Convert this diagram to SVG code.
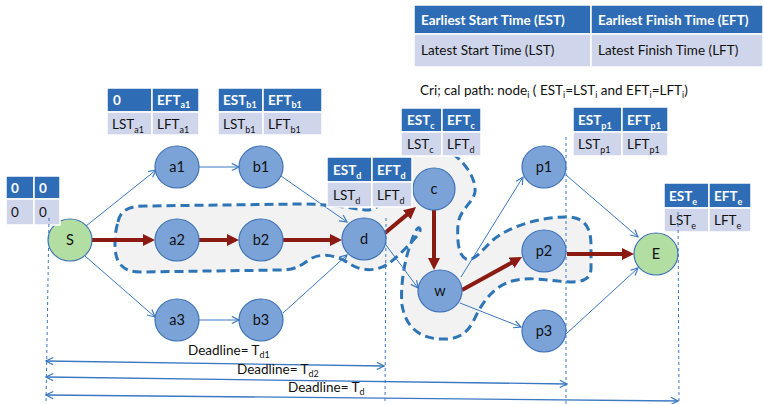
<svg xmlns="http://www.w3.org/2000/svg" width="764" height="404" viewBox="0 0 764 404">
<style>
text{font-family:Lato,"Liberation Sans",sans-serif}
.n{fill:#7ba3d8;stroke:#3d72b5;stroke-width:1.2}
.g{fill:#b3dea1;stroke:#3d72b5;stroke-width:1.2}
.lbl{font-size:14.5px;fill:#111;text-anchor:middle}
.th{fill:#2e6db5;stroke:#fff;stroke-width:1.5}
.tb{fill:#cfd5ea;stroke:#fff;stroke-width:1.5}
.tht{font-size:13.5px;font-weight:bold;fill:#fff}
.tbt{font-size:13.5px;fill:#111}
.s{font-size:9px}
.e{stroke:#3a78c2;stroke-width:1;fill:none;marker-end:url(#ah)}
.c{stroke:#8b1a12;stroke-width:4;fill:none;marker-end:url(#rh)}
.v{stroke:#3a78c2;stroke-width:1;stroke-dasharray:3 3;fill:none}
.dl{stroke:#3a78c2;stroke-width:1.3;fill:none;marker-start:url(#ah);marker-end:url(#ah)}
.blob{fill:#f2f2f2;stroke:#2e75b6;stroke-width:3;stroke-dasharray:9 5}
</style>
<defs>
<marker id="ah" viewBox="0 0 10 10" refX="9" refY="5" markerWidth="9" markerHeight="9" markerUnits="userSpaceOnUse" orient="auto-start-reverse"><path d="M1,1 L9,5 L1,9" fill="none" stroke="#3a78c2" stroke-width="1.3"/></marker>
<marker id="rh" viewBox="0 0 12 12" refX="1" refY="6" markerWidth="12" markerHeight="12" markerUnits="userSpaceOnUse" orient="auto"><path d="M0,0 L12,6 L0,12 z" fill="#8b1a12"/></marker>
</defs>
<rect width="764" height="404" fill="#fff"/>

<!-- critical region -->
<path class="blob" d="M118,222 C120,210 130,206 145,206 L300,204 C330,204 350,208 365,210 C380,211 392,195 396,175 C399,160 405,148 425,148 C445,148 452,152 460,160 C468,168 476,180 475,192 C473,203 460,209 458,224 C457,240 458,255 466,259 C474,262 482,250 493,240 C510,226 540,217 567,217 C585,217 591,228 591,245 L591,268 C591,278 585,282 570,282 C550,281 530,276 512,281 C494,286 482,302 474,320 C467,334 458,340 440,339 C420,338 406,328 402,305 C400,285 405,258 411,243 C413,236 416,229 418,228 C421,227 421,232 417,236 C410,244 398,257 388,264 C378,271 362,272 350,264 C340,257 325,252 312,258 C302,264 298,270 280,270 L140,272 C122,272 115,262 115,245 C115,235 116,228 118,222 Z"/>

<g id="connectors">
<line class="e" x1="86" y1="226" x2="156" y2="170"/>
<line class="e" x1="85" y1="256" x2="155" y2="317"/>
<line class="e" x1="199" y1="167" x2="239" y2="167"/>
<line class="e" x1="199" y1="320" x2="239" y2="320"/>
<line class="e" x1="281" y1="176" x2="347" y2="222"/>
<line class="e" x1="283" y1="313" x2="347" y2="255"/>
<line class="e" x1="386" y1="245" x2="418" y2="288"/>
<line class="e" x1="461" y1="277" x2="523" y2="177"/>
<line class="e" x1="460" y1="303" x2="521" y2="327"/>
<line class="e" x1="566" y1="175" x2="638" y2="237"/>
<line class="e" x1="566" y1="334" x2="638" y2="268"/>
<line class="c" x1="92" y1="240" x2="144" y2="240"/>
<line class="c" x1="199" y1="240" x2="228" y2="240"/>
<line class="c" x1="283" y1="240" x2="331" y2="240"/>
<line class="c" x1="385" y1="233" x2="407.6" y2="214.1"/>
<line class="c" x1="434" y1="210" x2="434" y2="259"/>
<line class="c" x1="462" y1="290" x2="512.4" y2="262.3"/>
<line class="c" x1="567" y1="254" x2="623" y2="254"/>
</g>

<g id="S"><ellipse class="g" cx="70" cy="240" rx="22" ry="21"/><text class="lbl" x="70" y="245">S</text></g>
<g id="a1"><ellipse class="n" cx="177" cy="167" rx="22" ry="21"/><text class="lbl" x="177" y="172">a1</text></g>
<g id="b1"><ellipse class="n" cx="261" cy="167" rx="22" ry="21"/><text class="lbl" x="261" y="172">b1</text></g>
<g id="a2"><ellipse class="n" cx="177" cy="240" rx="22" ry="21"/><text class="lbl" x="177" y="245">a2</text></g>
<g id="b2"><ellipse class="n" cx="261" cy="240" rx="22" ry="21"/><text class="lbl" x="261" y="245">b2</text></g>
<g id="a3"><ellipse class="n" cx="177" cy="320" rx="22" ry="21"/><text class="lbl" x="177" y="325">a3</text></g>
<g id="b3"><ellipse class="n" cx="261" cy="320" rx="22" ry="21"/><text class="lbl" x="261" y="325">b3</text></g>
<g id="d"><ellipse class="n" cx="364" cy="239" rx="22" ry="21"/><text class="lbl" x="364" y="244">d</text></g>
<g id="c"><ellipse class="n" cx="434" cy="189" rx="21" ry="21"/><text class="lbl" x="434" y="194">c</text></g>
<g id="w"><ellipse class="n" cx="440" cy="291" rx="22" ry="21"/><text class="lbl" x="440" y="296">w</text></g>
<g id="p1"><ellipse class="n" cx="544" cy="167" rx="22" ry="21"/><text class="lbl" x="544" y="172">p1</text></g>
<g id="p2"><ellipse class="n" cx="544" cy="251" rx="22" ry="21"/><text class="lbl" x="544" y="256">p2</text></g>
<g id="p3"><ellipse class="n" cx="544" cy="331" rx="22" ry="21"/><text class="lbl" x="544" y="336">p3</text></g>
<g id="E"><ellipse class="g" cx="656" cy="254" rx="22" ry="21"/><text class="lbl" x="656" y="259">E</text></g>

<!-- legend -->
<g id="legend">
<rect class="th" x="414" y="5" width="177" height="29"/><rect class="th" x="591" y="5" width="172" height="29"/>
<rect class="tb" x="414" y="34" width="177" height="33"/><rect class="tb" x="591" y="34" width="172" height="33"/>
<text class="tht" x="421" y="25">Earliest Start Time (EST)</text>
<text class="tht" x="598" y="25">Earliest Finish Time (EFT)</text>
<text class="tbt" x="421" y="55">Latest Start Time (LST)</text>
<text class="tbt" x="598" y="55">Latest Finish Time (LFT)</text>
<text class="tbt" x="420" y="95">Cri; cal path: node<tspan class="s" dy="3">i</tspan><tspan dy="-3"> ( EST</tspan><tspan class="s" dy="3">i</tspan><tspan dy="-3">=LST</tspan><tspan class="s" dy="3">i</tspan><tspan dy="-3"> and EFT</tspan><tspan class="s" dy="3">i</tspan><tspan dy="-3">=LFT</tspan><tspan class="s" dy="3">i</tspan><tspan dy="-3">)</tspan></text>
</g>

<g id="tS">
<rect class="th" x="6" y="176" width="28" height="23"/><rect class="th" x="34" y="176" width="26" height="23"/>
<rect class="tb" x="6" y="199" width="28" height="26"/><rect class="tb" x="34" y="199" width="26" height="26"/>
<text class="tht" x="11" y="193">0</text><text class="tht" x="39" y="193">0</text>
<text class="tbt" x="11" y="217">0</text><text class="tbt" x="39" y="217">0</text>
</g>
<g id="ta1">
<rect class="th" x="107" y="88" width="45" height="24"/><rect class="th" x="152" y="88" width="47" height="24"/>
<rect class="tb" x="107" y="112" width="45" height="23"/><rect class="tb" x="152" y="112" width="47" height="23"/>
<text class="tht" x="113" y="105">0</text><text class="tht" x="157" y="105">EFT<tspan class="s" dy="3">a1</tspan></text>
<text class="tbt" x="112" y="129">LST<tspan class="s" dy="4">a1</tspan></text><text class="tbt" x="157" y="129">LFT<tspan class="s" dy="4">a1</tspan></text>
</g>
<g id="tb1">
<rect class="th" x="218" y="88" width="45" height="24"/><rect class="th" x="263" y="88" width="59" height="24"/>
<rect class="tb" x="218" y="112" width="45" height="23"/><rect class="tb" x="263" y="112" width="59" height="23"/>
<text class="tht" x="223" y="105">EST<tspan class="s" dy="3">b1</tspan></text><text class="tht" x="268" y="105">EFT<tspan class="s" dy="3">b1</tspan></text>
<text class="tbt" x="223" y="129">LST<tspan class="s" dy="4">b1</tspan></text><text class="tbt" x="268" y="129">LFT<tspan class="s" dy="4">b1</tspan></text>
</g>
<g id="td">
<rect class="th" x="327" y="157" width="45" height="25"/><rect class="th" x="372" y="157" width="40" height="25"/>
<rect class="tb" x="327" y="182" width="45" height="25"/><rect class="tb" x="372" y="182" width="40" height="25"/>
<text class="tht" x="333" y="175">EST<tspan class="s" dy="4">d</tspan></text><text class="tht" x="377" y="175">EFT<tspan class="s" dy="4">d</tspan></text>
<text class="tbt" x="333" y="200">LST<tspan class="s" dy="4">d</tspan></text><text class="tbt" x="377" y="200">LFT<tspan class="s" dy="4">d</tspan></text>
</g>
<g id="tc">
<rect class="th" x="401" y="108" width="41" height="24"/><rect class="th" x="442" y="108" width="39" height="24"/>
<rect class="tb" x="401" y="132" width="41" height="24"/><rect class="tb" x="442" y="132" width="39" height="24"/>
<text class="tht" x="407" y="125">EST<tspan class="s" dy="4">c</tspan></text><text class="tht" x="447" y="125">EFT<tspan class="s" dy="4">c</tspan></text>
<text class="tbt" x="407" y="149">LST<tspan class="s" dy="4">c</tspan></text><text class="tbt" x="447" y="149">LFT<tspan class="s" dy="4">d</tspan></text>
</g>
<g id="tp1">
<rect class="th" x="573" y="107" width="49" height="25"/><rect class="th" x="622" y="107" width="46" height="25"/>
<rect class="tb" x="573" y="132" width="49" height="24"/><rect class="tb" x="622" y="132" width="46" height="24"/>
<text class="tht" x="578" y="125">EST<tspan class="s" dy="4">p1</tspan></text><text class="tht" x="627" y="125">EFT<tspan class="s" dy="4">p1</tspan></text>
<text class="tbt" x="578" y="149">LST<tspan class="s" dy="4">p1</tspan></text><text class="tbt" x="627" y="149">LFT<tspan class="s" dy="4">p1</tspan></text>
</g>
<g id="te">
<rect class="th" x="664" y="183" width="45" height="25"/><rect class="th" x="709" y="183" width="42" height="25"/>
<rect class="tb" x="664" y="208" width="45" height="24"/><rect class="tb" x="709" y="208" width="42" height="24"/>
<text class="tht" x="669" y="201">EST<tspan class="s" dy="4">e</tspan></text><text class="tht" x="714" y="201">EFT<tspan class="s" dy="4">e</tspan></text>
<text class="tbt" x="669" y="225">LST<tspan class="s" dy="4">e</tspan></text><text class="tbt" x="714" y="225">LFT<tspan class="s" dy="4">e</tspan></text>
</g>

<g id="deadlines">
<line class="v" x1="49" y1="218" x2="46" y2="404"/>
<line class="v" x1="386" y1="218" x2="385" y2="404"/>
<line class="v" x1="566" y1="137" x2="566" y2="404"/>
<line class="v" x1="678" y1="212" x2="679" y2="404"/>
<line class="dl" x1="46" y1="361" x2="384" y2="366"/>
<line class="dl" x1="46" y1="377" x2="567" y2="384"/>
<line class="dl" x1="46" y1="395" x2="678" y2="401"/>
<text class="tbt" x="188" y="355">Deadline= T<tspan class="s" dy="3">d1</tspan></text>
<text class="tbt" x="237" y="374">Deadline= T<tspan class="s" dy="3">d2</tspan></text>
<text class="tbt" x="288" y="392">Deadline= T<tspan class="s" dy="3">d</tspan></text>
</g>
</svg>
